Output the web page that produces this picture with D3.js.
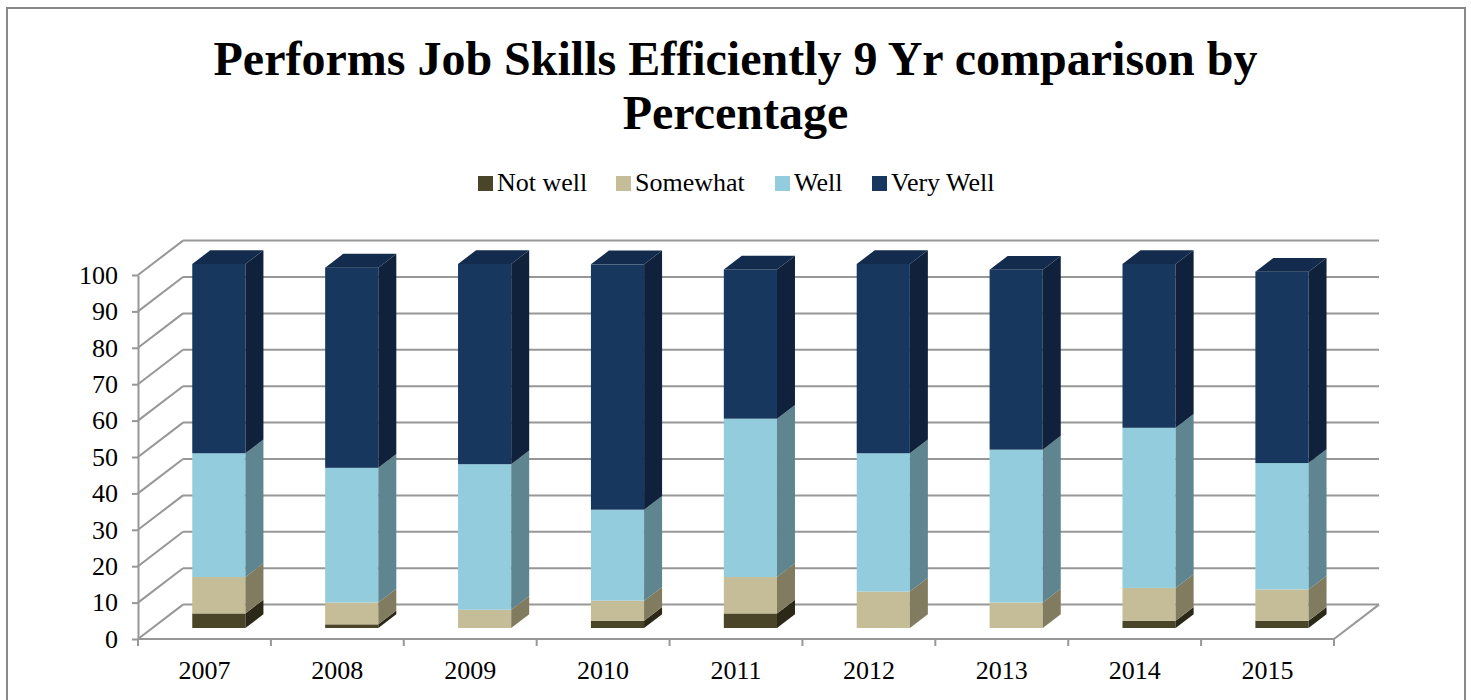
<!DOCTYPE html>
<html><head><meta charset="utf-8">
<script src="https://cdn.jsdelivr.net/npm/d3@7"></script>
<style>body{margin:0;background:#fff;} svg{display:block;} svg text{font-family:"Liberation Serif","Times New Roman",serif;}</style>
</head><body>
<svg id="c" width="1471" height="700"></svg>
<script>
const years = ["2007","2008","2009","2010","2011","2012","2013","2014","2015"];
const seriesNames = ["Not well","Somewhat","Well","Very Well"];
const notWell  = [4, 1, 0, 2, 4, 0, 0, 2, 2];
const somewhat = [10, 6, 5, 5.5, 10, 10, 7, 9, 8.6];
const well     = [34, 37, 40, 25, 43.5, 38, 42, 44, 34.7];
const veryWell = [52, 55, 55, 67.4, 41, 52, 49.4, 45, 52.6];
const yTicks = [0,10,20,30,40,50,60,70,80,90,100];

const frontCol = ["#4a4529","#c4bd97","#93cddd","#17375e"];
const sideCol  = ["#2b2817","#817c5f","#5e8590","#10223b"];
const topCol   = "#132c4d";
const FONT = '"Liberation Serif","Times New Roman",serif';

const svg = d3.select("#c");

// frame
svg.append("rect").attr("x",7).attr("y",8).attr("width",1458).attr("height",710)
  .attr("fill","none").attr("stroke","#898989").attr("stroke-width",2);

// title
const title = svg.append("text").attr("text-anchor","middle")
  .style("font-family",FONT).style("font-weight","bold").style("font-size","48px").attr("fill","#000");
title.append("tspan").attr("x",735.5).attr("y",75).text("Performs Job Skills Efficiently 9 Yr comparison by");
title.append("tspan").attr("x",735.5).attr("y",129).text("Percentage");

// legend
const legendX = [478, 616, 775, 872];
const lg = svg.append("g");
seriesNames.forEach((n,i)=>{
  lg.append("rect").attr("x",legendX[i]).attr("y",176).attr("width",15).attr("height",15).attr("fill",frontCol[i]);
  lg.append("text").attr("x",legendX[i]+19).attr("y",191).text(n).attr("fill","#000")
    .style("font-family",FONT).style("font-size","26px");
});

// geometry
const x0 = 138, x1 = 1334;
const DX = 45, DY = 34.4;
const y = d3.scaleLinear().domain([0,100]).range([639,275]);
const xb = d3.scaleBand().domain(years).range([x0,x1]).padding(0);
const bf = 0.32, bd = 0.40;
const barW = xb.bandwidth()*0.40;

const grid = svg.append("g").attr("stroke","#979797").attr("stroke-width",2).attr("fill","none");
yTicks.forEach(v=>{
  const yy = y(v);
  grid.append("line").attr("x1",x0).attr("y1",yy).attr("x2",x0+DX).attr("y2",yy-DY);
  grid.append("line").attr("x1",x0+DX).attr("y1",yy-DY).attr("x2",x1+DX).attr("y2",yy-DY);
});
grid.append("line").attr("x1",x1).attr("y1",y(0)).attr("x2",x1+DX).attr("y2",y(0)-DY);

// y axis
const yAxis = d3.axisLeft(y).tickValues(yTicks).tickSize(6).tickSizeOuter(0).tickPadding(14).tickFormat(d3.format("d"));
const ga = svg.append("g").attr("transform",`translate(${x0},0)`).call(yAxis);
ga.attr("font-family",null).attr("font-size",null);
ga.selectAll("path,line").attr("stroke","#979797").attr("stroke-width",2);
ga.selectAll("text").style("font-family",FONT).style("font-size","26px").attr("fill","#000");

// x axis
const gx = svg.append("g");
gx.append("line").attr("x1",x0).attr("x2",x1).attr("y1",y(0)).attr("y2",y(0)).attr("stroke","#979797").attr("stroke-width",2);
const bounds = years.map(d=>xb(d)).concat([x1]);
bounds.forEach(b=>{
  gx.append("line").attr("x1",b).attr("x2",b).attr("y1",y(0)).attr("y2",y(0)+7).attr("stroke","#979797").attr("stroke-width",2);
});
years.forEach(d=>{
  gx.append("text").attr("x",xb(d)+xb.bandwidth()/2).attr("y",679).attr("text-anchor","middle")
    .style("font-family",FONT).style("font-size","26px").attr("fill","#000").text(d);
});

// bars
const table = years.map((yr,i)=>({year:yr,"Not well":notWell[i],"Somewhat":somewhat[i],"Well":well[i],"Very Well":veryWell[i]}));
const stack = d3.stack().keys(seriesNames)(table);
const offX = bf*DX, offY = bf*DY, sX = bd*DX, sY = bd*DY;
const bars = svg.append("g");
years.forEach((yr,i)=>{
  const fx = xb(yr) + xb.bandwidth()/2 - barW/2 + offX;
  stack.forEach((s,k)=>{
    const lo = s[i][0], hi = s[i][1];
    if (hi - lo <= 0) return;
    const yb = y(lo) - offY, yt = y(hi) - offY;
    bars.append("rect").attr("x",fx).attr("y",yt).attr("width",barW).attr("height",yb-yt).attr("fill",frontCol[k]);
    const xr = fx + barW;
    bars.append("path").attr("d",`M${xr},${yb}L${xr+sX},${yb-sY}L${xr+sX},${yt-sY}L${xr},${yt}Z`).attr("fill",sideCol[k]);
  });
  const top = stack[stack.length-1][i][1];
  const yt = y(top) - offY;
  bars.append("path").attr("d",`M${fx},${yt}L${fx+sX},${yt-sY}L${fx+barW+sX},${yt-sY}L${fx+barW},${yt}Z`).attr("fill",topCol);
});
</script>
</body></html>
